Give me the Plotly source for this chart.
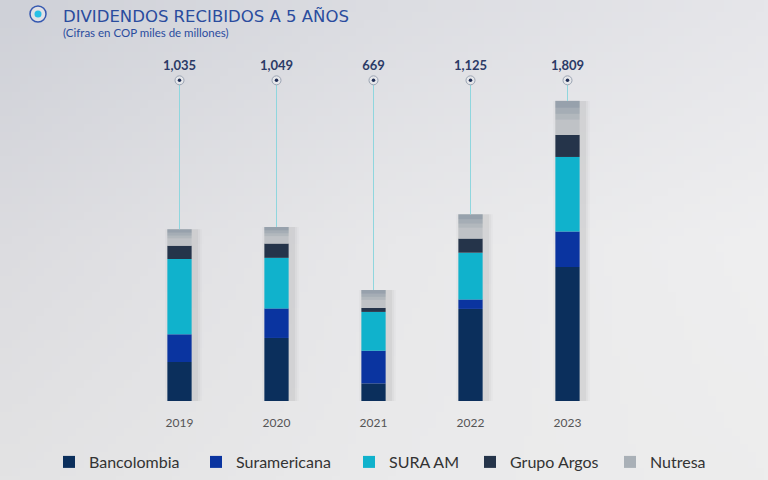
import base64
import struct
import zlib

import numpy as np
import plotly.graph_objects as go

# ---- data ----
years = ["2019", "2020", "2021", "2022", "2023"]
totals = [1035, 1049, 669, 1125, 1809]
series_names = ["Bancolombia", "Suramericana", "SURA AM", "Grupo Argos", "Nutresa"]
bancolombia = [235, 380, 106, 555, 807]
suramericana = [167, 178, 197, 57, 214]
sura_am = [454, 305, 234, 282, 450]
grupo_argos = [80, 86, 24, 85, 133]
nutresa = [99, 100, 108, 146, 205]
title_text = "DIVIDENDOS RECIBIDOS A 5 AÑOS"
subtitle_text = "(Cifras en COP miles de millones)"

series_values = [bancolombia, suramericana, sura_am, grupo_argos, nutresa]
colors = ["#0b2f5c", "#0a34a0", "#10b2cc", "#25344a", "#bfc2c6"]
legend_colors = ["#0b2f5c", "#0a34a0", "#10b2cc", "#25344a", "#a9b0b7"]
legend_px = [49, 196, 349, 470, 610]  # left edge of each legend entry (pixels)

W, H = 768, 480
ML, MR, MT, MB = 131, 152, 53, 79
PW, PH = W - ML - MR, H - MT - MB
LABEL_LEVEL = 1933
BAR_W = 0.25


# ---- smooth background gradient as an embedded PNG ----
def gradient_png():
    grid = np.array([
        [[0xcf, 0xd1, 0xd8], [0xdc, 0xdd, 0xe2], [0xe6, 0xe6, 0xea]],
        [[0xdc, 0xdc, 0xe0], [0xe8, 0xe8, 0xea], [0xef, 0xef, 0xf0]],
        [[0xe3, 0xe3, 0xe4], [0xea, 0xea, 0xeb], [0xed, 0xed, 0xed]],
    ], dtype=float)
    gw, gh = 96, 60
    xs = np.linspace(0, 2, gw)
    ys = np.linspace(0, 2, gh)
    img = np.zeros((gh, gw, 3))
    for j, yy in enumerate(ys):
        r0 = int(min(yy, 1.999)); fy = yy - r0
        for i, xx in enumerate(xs):
            c0 = int(min(xx, 1.999)); fx = xx - c0
            a = grid[r0, c0] * (1 - fx) + grid[r0, c0 + 1] * fx
            b = grid[r0 + 1, c0] * (1 - fx) + grid[r0 + 1, c0 + 1] * fx
            img[j, i] = a * (1 - fy) + b * fy
    img = img.astype(np.uint8)
    raw = b"".join(b"\x00" + img[j].tobytes() for j in range(gh))

    def chunk(tag, data):
        c = struct.pack(">I", len(data)) + tag + data
        return c + struct.pack(">I", zlib.crc32(tag + data) & 0xffffffff)

    png = b"\x89PNG\r\n\x1a\n" + chunk(b"IHDR", struct.pack(">IIBBBBB", gw, gh, 8, 2, 0, 0, 0)) \
        + chunk(b"IDAT", zlib.compress(raw, 9)) + chunk(b"IEND", b"")
    return "data:image/png;base64," + base64.b64encode(png).decode()


fig = go.Figure()

# soft shadow behind each bar
for w, op in [(0.38, 0.025), (0.34, 0.035), (0.30, 0.05)]:
    fig.add_trace(go.Bar(
        x=years, y=totals, base=0, width=w, offset=-w / 2 + 0.04,
        marker=dict(color=f"rgba(50,50,60,{op})", line=dict(width=0)),
        showlegend=False, hoverinfo="skip"))

bases = np.zeros(len(years))
for k, (name, vals, col) in enumerate(zip(series_names, series_values, colors)):
    vals = np.array(vals, dtype=float)
    fig.add_trace(go.Bar(
        x=years, y=vals, base=bases.copy(), name=name, width=BAR_W,
        marker=dict(color=col, line=dict(width=0)), showlegend=False))
    bases = bases + vals

# shading at the top of the Nutresa segment (darker blue-grey towards the top)
nut = np.array(nutresa, dtype=float)
top = np.array(totals, dtype=float)
for frac, op in [(0.55, 0.10), (0.38, 0.12), (0.2, 0.14)]:
    fig.add_trace(go.Bar(
        x=years, y=nut * frac, base=top - nut * frac, width=BAR_W,
        marker=dict(color=f"rgba(70,95,120,{op})", line=dict(width=0)),
        showlegend=False, hoverinfo="skip"))

# legend entries
for k, (name, col) in enumerate(zip(series_names, legend_colors)):
    fig.add_trace(go.Bar(
        x=[years[0]], y=[0], name=name, width=BAR_W,
        marker=dict(color=col, line=dict(width=0)), hoverinfo="skip",
        legend="legend" if k == 0 else f"legend{k + 1}"))

# leader lines + ring markers + total labels
fig.add_trace(go.Scatter(
    x=years, y=[LABEL_LEVEL] * len(years), mode="markers+text",
    text=[f"{t:,}" for t in totals], textposition="top center",
    textfont=dict(family="Lato", size=13, color="#2b3a66", weight="bold"),
    marker=dict(symbol="circle", size=9, color="#e6e7ea",
                line=dict(color="#9aa3b2", width=1)),
    error_y=dict(type="data", symmetric=False,
                 array=[0] * len(years),
                 arrayminus=[LABEL_LEVEL - t for t in totals],
                 color="#8fd6de", thickness=1, width=0),
    showlegend=False, hoverinfo="skip", cliponaxis=False))
fig.add_trace(go.Scatter(
    x=years, y=[LABEL_LEVEL] * len(years), mode="markers",
    marker=dict(symbol="circle", size=3.5, color="#1f2d55", line=dict(width=0)),
    showlegend=False, hoverinfo="skip", cliponaxis=False))

icon_x = (38 - ML) / PW
icon_y = (H - MB - 14) / PH
shapes = [
    dict(type="circle", xref="paper", yref="paper", xsizemode="pixel", ysizemode="pixel",
         xanchor=icon_x, yanchor=icon_y, x0=-8, x1=8, y0=-8, y1=8,
         line=dict(color="#3558b0", width=1.5), fillcolor="rgba(255,255,255,0.35)"),
    dict(type="circle", xref="paper", yref="paper", xsizemode="pixel", ysizemode="pixel",
         xanchor=icon_x, yanchor=icon_y, x0=-3.5, x1=3.5, y0=-3.5, y1=3.5,
         line=dict(width=0), fillcolor="#28c0e6"),
]

legend_y = -(462 - (H - MB)) / PH
legends = {}
for k, px in enumerate(legend_px):
    key = "legend" if k == 0 else f"legend{k + 1}"
    legends[key] = dict(orientation="h", x=(px - ML) / PW, xanchor="left",
                        y=legend_y, yanchor="middle",
                        font=dict(family="Lato", size=16, color="#333333"),
                        bgcolor="rgba(0,0,0,0)")

fig.update_layout(
    width=W, height=H,
    margin=dict(l=ML, r=MR, t=MT, b=MB, autoexpand=False),
    paper_bgcolor="#e6e6e8", plot_bgcolor="rgba(0,0,0,0)",
    barmode="overlay",
    font=dict(family="Lato", color="#333333"),
    shapes=shapes,
    images=[dict(source=gradient_png(), xref="paper", yref="paper",
                 x=-ML / PW, y=(H - MB) / PH, sizex=W / PW, sizey=H / PH,
                 xanchor="left", yanchor="top", sizing="stretch", layer="below")],
    showlegend=True,
    xaxis=dict(type="category", showgrid=False, zeroline=False, showline=False,
               ticks="outside", ticklen=11, tickcolor="rgba(0,0,0,0)",
               tickfont=dict(family="Lato", size=12, color="#555555"),
               range=[-0.5, 4.5], automargin=False),
    yaxis=dict(visible=False, range=[0, PH / 0.1659], fixedrange=True),
    annotations=[
        dict(text=title_text, xref="paper", yref="paper", x=(61 - ML) / PW,
             y=(H - MB - 16) / PH, xanchor="left", yanchor="middle", showarrow=False,
             font=dict(family="DejaVu Sans", size=16.5, color="#2a4c9e")),
        dict(text=subtitle_text, xref="paper", yref="paper", x=(61 - ML) / PW,
             y=(H - MB - 32) / PH, xanchor="left", yanchor="middle", showarrow=False,
             font=dict(family="Lato", size=11.5, color="#2a4c9e")),
    ],
    **legends,
)

fig.write_html("out.html", config={"displayModeBar": False},
               post_script="document.body.style.margin='0';"
                           "document.body.style.background='#e9e9ea';")
